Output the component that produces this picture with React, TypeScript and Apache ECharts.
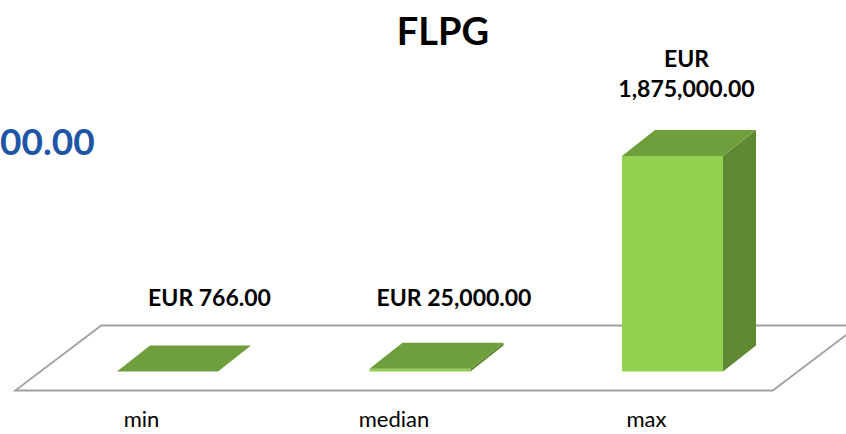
import React, { useEffect, useRef } from "react";
import * as echarts from "echarts";

const categories = ["min", "median", "max"];
const values = [766, 25000, 1875000];
const titleText = "FLPG";
const sideText = "00.00";

const FONT = "Lato";
const DEPTH_X = 33;
const DEPTH_Y = 26;
const LABEL_SHIFT = [42, 34, 14];
const LABEL_RAISE = [48, 46, 42];

function fmt(v: number): string {
  const s = "EUR " + v.toLocaleString("en-US", { minimumFractionDigits: 2, maximumFractionDigits: 2 });
  return s.length > 14 ? s.replace(" ", "\n") : s;
}

export default function App() {
  const ref = useRef<HTMLDivElement>(null);
  useEffect(() => {
    if (!ref.current) return;
    const chart = echarts.init(ref.current, undefined, { renderer: "svg" });
    chart.setOption({
      animation: false,
      backgroundColor: "#ffffff",
      title: {
        text: titleText,
        left: 438,
        textAlign: "center",
        top: 6,
        textStyle: { fontFamily: FONT, fontWeight: "bold", fontSize: 38, color: "#000000" },
      },
      graphic: [
        {
          type: "text",
          left: 0,
          top: 122,
          style: {
            text: sideText,
            fontFamily: FONT,
            fontWeight: "bold",
            fontSize: 37,
            fill: "#1E55A5",
          },
        },
      ],
      grid: { left: 41.25, right: 47.25, top: 141.7, bottom: 62.5 },
      xAxis: {
        type: "category",
        data: categories,
        axisLine: { show: false },
        axisTick: { show: false },
        splitLine: { show: false },
        axisLabel: {
          margin: 38,
          padding: [0, 52, 0, 0],
          lineHeight: 18,
          fontFamily: FONT,
          fontSize: 22,
          color: "#000000",
        },
      },
      yAxis: { type: "value", min: 0, max: 2000000, show: false },
      series: [
        {
          type: "custom",
          name: "floor",
          z: 1,
          silent: true,
          data: [[0, 0]],
          renderItem: (params: any, api: any) => {
            const cs = params.coordSys;
            const fy = cs.y + cs.height + 19;
            const fx0 = cs.x - 26;
            const fx1 = cs.x + cs.width - 26;
            const bx = 86;
            const by = 65;
            return {
              type: "polygon",
              shape: {
                points: [
                  [fx0, fy],
                  [fx1, fy],
                  [fx1 + bx, fy - by],
                  [fx0 + bx, fy - by],
                ],
              },
              style: { fill: "none", stroke: "#a0a0a0", lineWidth: 1.8 },
            };
          },
        },
        {
          type: "custom",
          name: "value",
          z: 2,
          data: values.map((v, i) => [i, v]),
          renderItem: (params: any, api: any) => {
            const i = api.value(0);
            const v = api.value(1);
            const base = api.coord([i, 0]);
            const top = api.coord([i, v]);
            const w = api.size([1, 0])[0] * 0.4;
            const x0 = base[0] - w / 2;
            const x1 = base[0] + w / 2;
            const y0 = base[1];
            const y1 = top[1];
            const text = fmt(v);
            const lh = 30;
            const labelX = base[0] + LABEL_SHIFT[params.dataIndex];
            const lastCenter = y1 - DEPTH_Y - LABEL_RAISE[params.dataIndex];
            return {
              type: "group",
              children: [
                {
                  type: "polygon",
                  shape: { points: [[x0, y1], [x1, y1], [x1, y0], [x0, y0]] },
                  style: { fill: "#92D050" },
                },
                {
                  type: "polygon",
                  shape: {
                    points: [
                      [x1, y1],
                      [x1 + DEPTH_X, y1 - DEPTH_Y],
                      [x1 + DEPTH_X, y0 - DEPTH_Y],
                      [x1, y0],
                    ],
                  },
                  style: { fill: "#5E8832" },
                },
                {
                  type: "polygon",
                  shape: {
                    points: [
                      [x0, y1],
                      [x0 + DEPTH_X, y1 - DEPTH_Y],
                      [x1 + DEPTH_X, y1 - DEPTH_Y],
                      [x1, y1],
                    ],
                  },
                  style: { fill: "#6F9E3C" },
                },
                {
                  type: "text",
                  x: labelX,
                  y: lastCenter + lh / 2,
                  style: {
                    text,
                    fontFamily: FONT,
                    fontWeight: "bold",
                    fontSize: 23,
                    lineHeight: lh,
                    fill: "#000000",
                    align: "center",
                    verticalAlign: "bottom",
                  },
                },
              ],
            };
          },
        },
      ],
    });
    return () => chart.dispose();
  }, []);
  return (
    <div
      ref={ref}
      style={{ position: "absolute", left: 0, top: 0, width: 846, height: 434 }}
    />
  );
}
